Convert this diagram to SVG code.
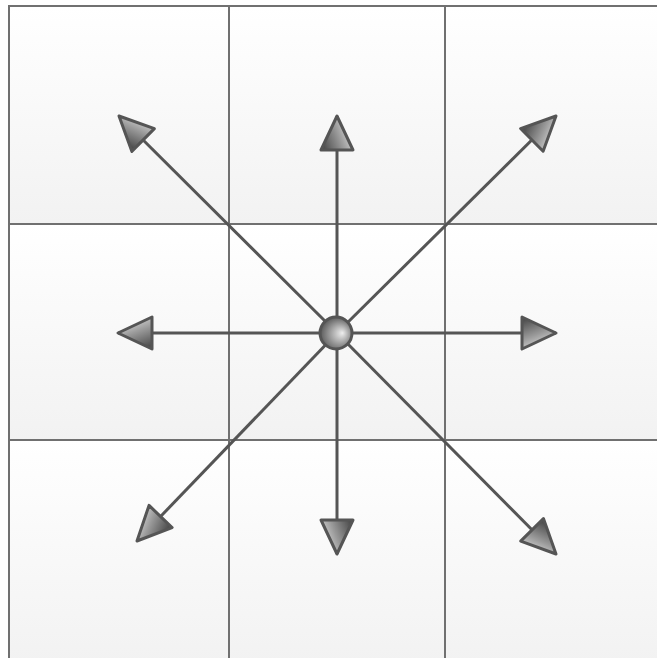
<svg xmlns="http://www.w3.org/2000/svg" width="657" height="658" viewBox="0 0 657 658">
  <style>
    .cell { fill: url(#cellGrad); stroke: #707070; stroke-width: 2; }
    .conn { stroke: #555; stroke-width: 3; fill: none; marker-end: url(#head); }
  </style>
  <defs>
    <linearGradient id="cellGrad" x1="0" y1="0" x2="0" y2="1">
      <stop offset="0" stop-color="#ffffff"/>
      <stop offset="1" stop-color="#f2f2f2"/>
    </linearGradient>
    <linearGradient id="headGrad" x1="0.2" y1="0" x2="0.6" y2="1">
      <stop offset="0" stop-color="#4a4a4a"/>
      <stop offset="0.55" stop-color="#9a9a9a"/>
      <stop offset="1" stop-color="#e0e0e0"/>
    </linearGradient>
    <radialGradient id="dotGrad" cx="0.55" cy="0.55" r="0.6" fx="0.7" fy="0.5">
      <stop offset="0" stop-color="#eeeeee"/>
      <stop offset="1" stop-color="#505050"/>
    </radialGradient>
    <marker id="head" markerUnits="userSpaceOnUse" viewBox="-3 -20 42 40" refX="34" refY="0" markerWidth="42" markerHeight="40" orient="auto" overflow="visible">
      <path d="M0,-16 L34,0 L0,16 Z" fill="url(#headGrad)" stroke="#555" stroke-width="3" stroke-linejoin="round"/>
    </marker>
  </defs>
  <rect x="0" y="0" width="657" height="658" fill="#ffffff"/>
  <g id="cell-tl"><rect class="cell" x="9" y="6" width="220" height="218"/></g>
  <g id="cell-tc"><rect class="cell" x="229" y="6" width="216" height="218"/></g>
  <g id="cell-tr"><rect class="cell" x="445" y="6" width="220" height="218"/></g>
  <g id="cell-ml"><rect class="cell" x="9" y="224" width="220" height="216"/></g>
  <g id="cell-mc"><rect class="cell" x="229" y="224" width="216" height="216"/></g>
  <g id="cell-mr"><rect class="cell" x="445" y="224" width="220" height="216"/></g>
  <g id="cell-bl"><rect class="cell" x="9" y="440" width="220" height="225"/></g>
  <g id="cell-bc"><rect class="cell" x="229" y="440" width="216" height="225"/></g>
  <g id="cell-br"><rect class="cell" x="445" y="440" width="220" height="225"/></g>
  <g id="connectors">
    <line class="conn" x1="337" y1="333" x2="337" y2="116"/>
    <line class="conn" x1="337" y1="333" x2="337" y2="554"/>
    <line class="conn" x1="337" y1="333" x2="118" y2="333"/>
    <line class="conn" x1="337" y1="333" x2="556" y2="333"/>
    <line class="conn" x1="337" y1="333" x2="119" y2="116"/>
    <line class="conn" x1="337" y1="333" x2="556" y2="116"/>
    <line class="conn" x1="337" y1="333" x2="137" y2="541"/>
    <line class="conn" x1="337" y1="333" x2="556" y2="554"/>
  </g>
  <g id="center">
    <circle cx="336" cy="333" r="16" fill="url(#dotGrad)" stroke="#555" stroke-width="3"/>
  </g>
</svg>
